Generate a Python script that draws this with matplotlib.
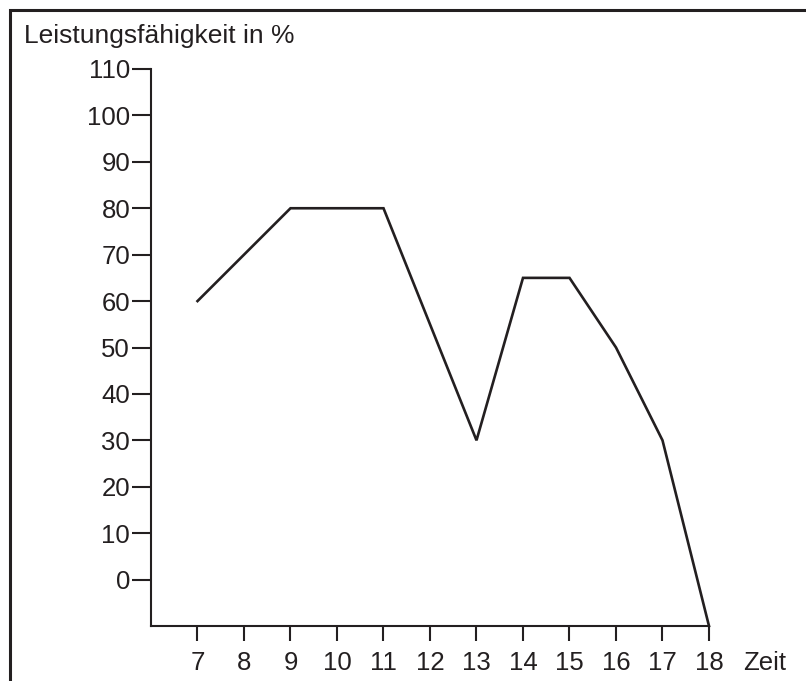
import matplotlib
matplotlib.use("Agg")
import matplotlib.pyplot as plt
from matplotlib.patches import Rectangle
from matplotlib.transforms import offset_copy

hours = [7, 8, 9, 10, 11, 12, 13, 14, 15, 16, 17, 18]
performance = [60, 70, 80, 80, 80, 55, 30, 65, 65, 50, 30, -10]
y_ticks = [0, 10, 20, 30, 40, 50, 60, 70, 80, 90, 100, 110]
x_label = "Zeit"
y_label = "Leistungsfähigkeit in %"

plt.rcParams['font.family'] = ['Liberation Sans', 'DejaVu Sans']
ink = '#231f20'

W, H = 806, 681
fig = plt.figure(figsize=(W / 100, H / 100), dpi=100)
fig.patch.set_facecolor('white')

ax = fig.add_axes([151 / W, 55 / H, (709 - 151) / W, (626 - 69) / H])
ax.plot(hours, performance, color=ink, lw=1.9, solid_joinstyle='miter', clip_on=False)
ax.set_xlim(6, 18)
ax.set_ylim(-10, 110)
ax.set_xticks(hours)
ax.set_xticklabels([str(h) for h in hours])
ax.set_yticks(y_ticks)
ax.set_yticklabels([str(v) for v in y_ticks])
for s in ['top', 'right']:
    ax.spines[s].set_visible(False)
for s in ['left', 'bottom']:
    ax.spines[s].set_color(ink)
    ax.spines[s].set_linewidth(1.5)
TS = 18.5
ax.tick_params(axis='y', direction='out', length=13.5, width=1.5, color=ink,
               labelsize=TS, labelcolor=ink, pad=1.5)
ax.tick_params(axis='x', direction='out', length=11, width=1.5, color=ink,
               labelsize=TS, labelcolor=ink, pad=7)
ax.set_facecolor('none')

# axis titles
tr = offset_copy(ax.transData, fig=fig, y=-(11 + 7), units='points')
ax.text(18.73, -10, x_label, transform=tr, fontsize=TS, color=ink,
        ha='left', va='top')
fig.text(24 / W, 1 - 43 / H, y_label, fontsize=19, color=ink,
         ha='left', va='baseline')

# outer frame (top and left visible)
frame = Rectangle((9.5 / W, -0.1), 1.2, 1.1 - 9.5 / H, transform=fig.transFigure,
                  fill=False, edgecolor=ink, lw=2.2, clip_on=False)
fig.patches.append(frame)

fig.savefig('out.png', dpi=100, facecolor='white')
